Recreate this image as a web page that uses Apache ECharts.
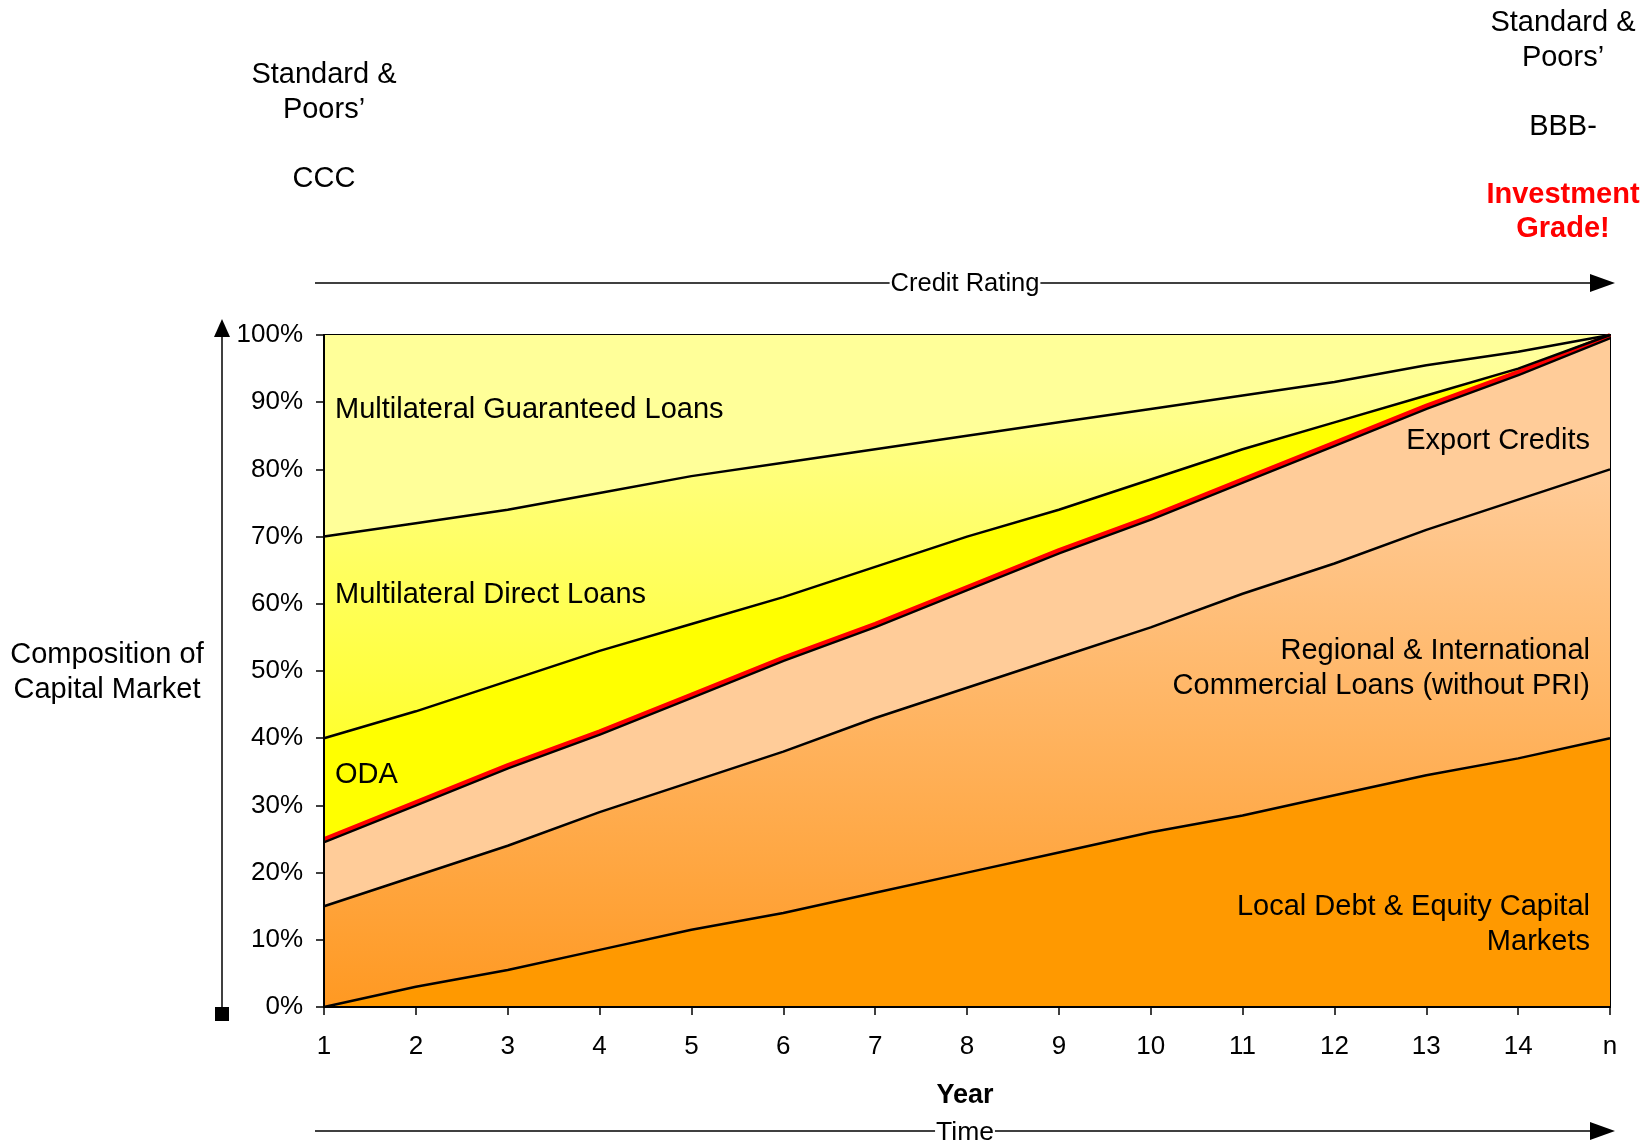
<!DOCTYPE html>
<html>
<head>
<meta charset="utf-8">
<script src="https://cdn.jsdelivr.net/npm/echarts@6/dist/echarts.min.js"></script>
<style>
  html, body { margin: 0; padding: 0; background: #fff; }
  #chart { width: 1649px; height: 1140px; }
</style>
</head>
<body>
<div id="chart"></div>
<script>
// Years along the horizontal axis
const years = ['1', '2', '3', '4', '5', '6', '7', '8', '9', '10', '11', '12', '13', '14', 'n'];

// Share of the capital market (%) for each source, stacked bottom to top
const localMarkets    = [0, 3, 5.5, 8.5, 11.5, 14, 17, 20, 23, 26, 28.5, 31.5, 34.5, 37, 40];
const regionalLoans   = [15, 16.5, 18.5, 20.5, 22, 24, 26, 27.5, 29, 30.5, 33, 34.5, 36.5, 38.5, 40];
const exportCredits   = [10, 11, 12, 12, 13, 14, 14, 15, 16, 16.5, 17, 18, 18.5, 19, 20];
const odaFunds        = [15, 13.5, 12.5, 12, 10.5, 9, 8.5, 7.5, 6, 5.5, 4.5, 3, 1.5, 0.5, 0];
const directLoans     = [30, 28, 25.5, 23.5, 22, 20, 17.5, 15, 13, 10.5, 8, 6, 4.5, 2.5, 0];
const guaranteedLoans = [30, 28, 26, 23.5, 21, 19, 17, 15, 13, 11, 9, 7, 4.5, 2.5, 0];

const FONT = '"Liberation Sans", Arial, Helvetica, sans-serif';

const chart = echarts.init(document.getElementById('chart'), null, { renderer: 'canvas' });

function vgrad(top, bottom) {
  return {
    type: 'linear', x: 0, y: 0, x2: 0, y2: 1,
    colorStops: [{ offset: 0, color: top }, { offset: 1, color: bottom }]
  };
}

function areaSeries(name, data, fill) {
  return {
    name, type: 'line', stack: 'share', data,
    showSymbol: false, symbol: 'none',
    lineStyle: { width: 0 },
    areaStyle: { color: fill, opacity: 1 },
    z: 2, silent: true
  };
}

function edgeSeries(name, data, lineStyle) {
  return {
    name: name + ' edge', type: 'line', stack: 'edge', data,
    showSymbol: false, symbol: 'none',
    lineStyle, z: 4, silent: true
  };
}

const blackEdge = { color: '#000', width: 2.5 };

function text(str, x, y, opts) {
  return {
    type: 'text', z: 20,
    style: Object.assign({
      text: str, x, y, fill: '#000',
      font: '29px ' + FONT, align: 'left', verticalAlign: 'middle'
    }, opts || {})
  };
}

function hArrow(y) {
  return [
    { type: 'line', z: 15, shape: { x1: 315, y1: y, x2: 1596, y2: y }, style: { stroke: '#000', lineWidth: 1.5 } },
    { type: 'polygon', z: 15, shape: { points: [[1590, y - 9], [1615, y], [1590, y + 9]] }, style: { fill: '#000' } }
  ];
}

const option = {
  animation: false,
  backgroundColor: '#fff',
  grid: {
    left: 324, right: 39, top: 335, bottom: 133,
    show: true, borderColor: '#000', borderWidth: 2, backgroundColor: 'transparent'
  },
  xAxis: {
    type: 'category', data: years, boundaryGap: false,
    axisLine: { lineStyle: { color: '#000', width: 2 } },
    axisTick: { show: true, length: 8, interval: 0, lineStyle: { color: '#000', width: 1.5 } },
    axisLabel: { interval: 0, color: '#000', fontSize: 26, fontFamily: FONT, margin: 27 },
    splitLine: { show: false },
    z: 10
  },
  yAxis: {
    type: 'value', min: 0, max: 100, interval: 10,
    axisLine: { show: true, lineStyle: { color: '#000', width: 2 } },
    axisTick: { show: true, length: 8, lineStyle: { color: '#000', width: 1.5 } },
    axisLabel: { color: '#000', fontSize: 26, fontFamily: FONT, margin: 21, formatter: '{value}%' },
    splitLine: { show: false },
    z: 10
  },
  series: [
    areaSeries('Local Debt & Equity Capital Markets', localMarkets, '#FF9900'),
    areaSeries('Regional & International Commercial Loans', regionalLoans, vgrad('#FFCC99', '#FF9922')),
    areaSeries('Export Credits', exportCredits, '#FFCC99'),
    areaSeries('ODA', odaFunds, '#FFFF00'),
    areaSeries('Multilateral Direct Loans', directLoans, vgrad('#FFFFA0', '#FFFF30')),
    areaSeries('Multilateral Guaranteed Loans', guaranteedLoans, '#FFFF99'),

    edgeSeries('Local', localMarkets, blackEdge),
    edgeSeries('Regional', regionalLoans, blackEdge),
    edgeSeries('Export', exportCredits, {
      color: '#FF0000', width: 4,
      shadowColor: '#000', shadowOffsetY: 2.5, shadowBlur: 0
    }),
    edgeSeries('ODA', odaFunds, blackEdge),
    edgeSeries('Direct', directLoans, blackEdge)
  ],
  graphic: [
    // credit rating headings
    text('Standard &\nPoors’\n\nCCC', 324, 127, { align: 'center', lineHeight: 34.6 }),
    text('Standard &\nPoors’\n\nBBB-', 1563, 75, { align: 'center', lineHeight: 34.6 }),
    text('Investment\nGrade!', 1563, 212, { align: 'center', lineHeight: 34.6, fill: '#FF0000', font: 'bold 29px ' + FONT }),

    // vertical axis arrow
    { type: 'line', z: 15, shape: { x1: 222, y1: 334, x2: 222, y2: 1008 }, style: { stroke: '#000', lineWidth: 1.5 } },
    { type: 'polygon', z: 15, shape: { points: [[214, 337], [222, 319], [230, 337]] }, style: { fill: '#000' } },
    { type: 'rect', z: 15, shape: { x: 215, y: 1007, width: 14, height: 14 }, style: { fill: '#000' } },
    text('Composition of\nCapital Market', 107, 672, { align: 'center', lineHeight: 35 }),

    // horizontal arrows
    ...hArrow(283),
    text('Credit Rating', 965, 284, { align: 'center', font: '25.5px ' + FONT, backgroundColor: '#fff', padding: [0, 1] }),
    ...hArrow(1131),
    text('Time', 965, 1133, { align: 'center', font: '26.5px ' + FONT, backgroundColor: '#fff', padding: [0, 1] }),
    text('Year', 965, 1096, { align: 'center', font: 'bold 27px ' + FONT }),

    // region labels
    text('Multilateral Guaranteed Loans', 335, 410),
    text('Multilateral Direct Loans', 335, 595),
    text('ODA', 335, 775),
    text('Export Credits', 1590, 441, { align: 'right' }),
    text('Regional & International\nCommercial Loans (without PRI)', 1590, 668, { align: 'right', lineHeight: 35 }),
    text('Local Debt & Equity Capital\nMarkets', 1590, 924, { align: 'right', lineHeight: 35 })
  ]
};

chart.setOption(option);
</script>
</body>
</html>
